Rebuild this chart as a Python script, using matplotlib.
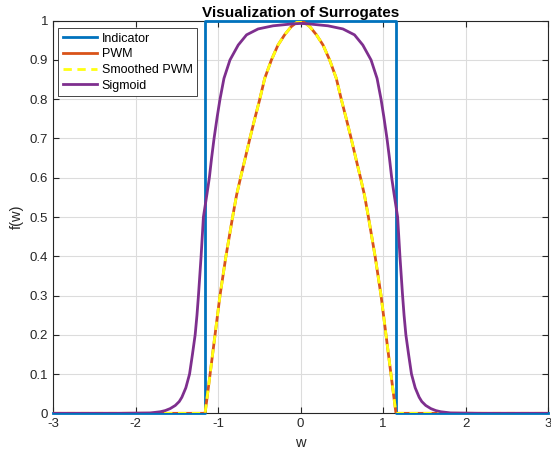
import matplotlib
matplotlib.use("Agg")
import matplotlib.pyplot as plt

# values
ind_w = [-3, -1.157, -1.157, 1.157, 1.157, 3]
ind_f = [0, 0, 1, 1, 0, 0]

pwm_w = [-3, -1.157, -1.096, -1.036, -0.976, -0.904, -0.823, -0.775, -0.727, -0.67,
         -0.614, -0.555, -0.494, -0.434, -0.353, -0.273, -0.193, -0.112, -0.05, 0,
         0.05, 0.112, 0.193, 0.273, 0.353, 0.434, 0.494, 0.555, 0.614,
         0.67, 0.727, 0.775, 0.823, 0.904, 0.976, 1.036, 1.096, 1.157, 3]
pwm_f = [0, 0, 0.10, 0.20, 0.30, 0.40, 0.50, 0.556, 0.60, 0.65,
         0.70, 0.75, 0.80, 0.853, 0.90, 0.938, 0.964, 0.985, 0.995, 1.0,
         0.995, 0.985, 0.964, 0.938, 0.90, 0.853, 0.80, 0.75, 0.70,
         0.65, 0.60, 0.556, 0.50, 0.40, 0.30, 0.20, 0.10, 0, 0]
smooth_f = list(pwm_f)

sig_w = [-3, -2.2, -1.82, -1.70, -1.64, -1.58, -1.518, -1.47, -1.438, -1.39,
         -1.345, -1.31, -1.277, -1.255, -1.237, -1.205, -1.177, -1.133, -1.105, -1.078,
         -1.048, -1.01, -0.976, -0.928, -0.855, -0.755, -0.654, -0.514, -0.333, -0.092, 0,
         0.092, 0.333, 0.514, 0.654, 0.755, 0.855, 0.928, 0.976, 1.01,
         1.048, 1.078, 1.105, 1.133, 1.177, 1.205, 1.237, 1.255, 1.277, 1.31,
         1.345, 1.39, 1.438, 1.47, 1.518, 1.58, 1.64, 1.70, 1.82, 2.2, 3]
sig_f = [0, 0, 0.001, 0.004, 0.007, 0.012, 0.02, 0.03, 0.041, 0.065,
         0.10, 0.15, 0.20, 0.25, 0.30, 0.40, 0.50, 0.56, 0.60, 0.65,
         0.70, 0.755, 0.80, 0.853, 0.90, 0.938, 0.964, 0.979, 0.987, 0.992, 0.993,
         0.992, 0.987, 0.979, 0.964, 0.938, 0.90, 0.853, 0.80, 0.755,
         0.70, 0.65, 0.60, 0.56, 0.50, 0.40, 0.30, 0.25, 0.20, 0.15,
         0.10, 0.065, 0.041, 0.03, 0.02, 0.012, 0.007, 0.004, 0.001, 0, 0]

x_ticks = [-3, -2, -1, 0, 1, 2, 3]
y_ticks = [0, 0.1, 0.2, 0.3, 0.4, 0.5, 0.6, 0.7, 0.8, 0.9, 1]
y_labels = ["0", "0.1", "0.2", "0.3", "0.4", "0.5", "0.6", "0.7", "0.8", "0.9", "1"]

plt.rcParams['font.family'] = ['Liberation Sans', 'DejaVu Sans']
plt.rcParams['axes.unicode_minus'] = False

txt = '#262626'
fig = plt.figure(figsize=(5.51, 4.55), dpi=100)
ax = fig.add_axes([0.0962, 0.0916, 0.8984, 0.8629])

ax.plot(ind_w, ind_f, color='#0072BD', lw=2, label='Indicator', clip_on=False, zorder=3)
ax.plot(pwm_w, pwm_f, color='#D95319', lw=2, label='PWM', zorder=4)
ax.plot(pwm_w, smooth_f, color='#FFFF11', lw=2, ls=(0, (3, 2)), label='Smoothed PWM', zorder=5)
ax.plot(sig_w, sig_f, color='#7E2F8E', lw=2, label='Sigmoid', zorder=6)

ax.set_xlim(-3, 3)
ax.set_ylim(0, 1)
ax.set_xticks(x_ticks)
ax.set_xticklabels([str(t) for t in x_ticks])
ax.set_yticks(y_ticks)
ax.set_yticklabels(y_labels)
ax.grid(True, color='#DCDCDC', lw=0.8)
ax.set_axisbelow(True)
ax.tick_params(direction='in', top=True, right=True, length=4, width=0.8,
               colors=txt, labelsize=9.5)
for s in ax.spines.values():
    s.set_color(txt)
    s.set_linewidth(0.8)

ax.set_xlabel('w', fontsize=10.5, color=txt, labelpad=4)
ax.set_ylabel('f(w)', fontsize=10.5, color=txt, labelpad=4)
ax.set_title('Visualization of Surrogates', fontsize=11, fontweight='bold', color='black', pad=3)

leg = ax.legend(loc='upper left', bbox_to_anchor=(0.011, 0.981), borderaxespad=0,
                fontsize=9, fancybox=False, edgecolor='#262626', framealpha=1,
                handlelength=2.7, borderpad=0.35, labelspacing=0.3, handletextpad=0.4)
leg.get_frame().set_linewidth(0.6)

fig.savefig('out.png', dpi=100)
